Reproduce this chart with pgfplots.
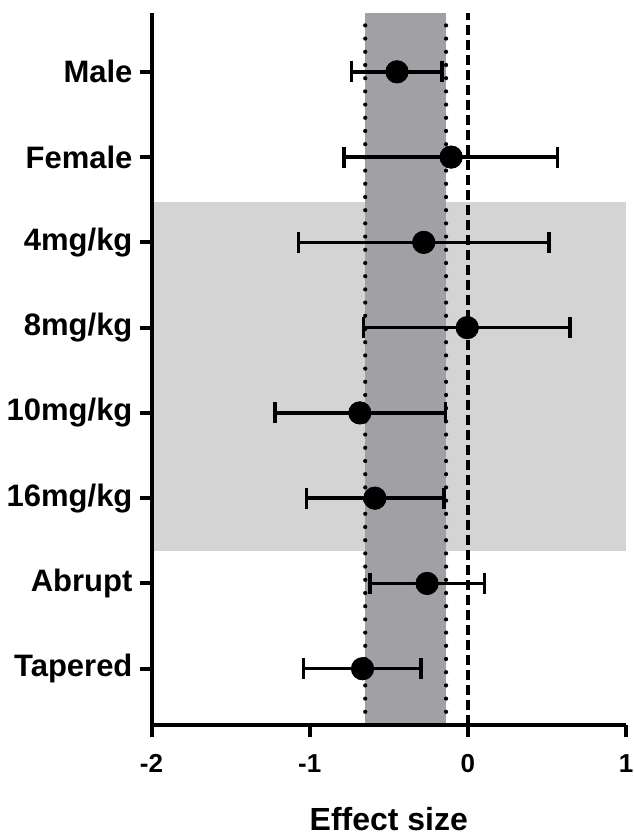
\documentclass[border=0pt]{standalone}
\usepackage{fontspec}
\setmainfont{Liberation Sans}
\usepackage{pgfplots}
\usepackage{pgfplotstable}
\pgfplotsset{compat=1.18}
\definecolor{lightg}{RGB}{212,212,212}
\definecolor{bandg}{RGB}{161,160,165}
\pgfplotstableread{
y m em ep
8 -0.448 0.286 0.285
7 -0.106 0.676 0.672
6 -0.279 0.791 0.792
5 -0.004 0.656 0.649
4 -0.683 0.537 0.543
3 -0.588 0.433 0.436
2 -0.258 0.360 0.363
1 -0.666 0.374 0.370
}\data
\begin{document}
\begin{tikzpicture}
\begin{axis}[
 scale only axis, width=237.3pt, height=356pt,
 xmin=-2, xmax=1, ymin=0.34, ymax=8.69,
 axis x line*=bottom, axis y line*=left,
 x axis line style={-}, y axis line style={-},
 axis line style={line width=2pt},
 xtick={-2,-1,0,1}, ytick={1,2,3,4,5,6,7,8},
 yticklabels={Tapered,Abrupt,16mg/kg,10mg/kg,8mg/kg,4mg/kg,Female,Male},
 tick style={line width=2pt, black}, tick align=outside, major tick length=6pt,
 /pgf/number format/assume math mode=true,
 xticklabel style={font=\fontsize{13}{15}\selectfont\bfseries, inner sep=0pt, yshift=-8.5pt},
 yticklabel style={font=\fontsize{15.5}{18}\selectfont\bfseries},
 xlabel={Effect size},
 xlabel style={font=\fontsize{16}{19}\selectfont\bfseries, inner sep=0pt, at={(axis description cs:0.5,0)}, anchor=base, yshift=-52.5pt},
 axis on top,
]
\addplot[fill=lightg, draw=none, forget plot] coordinates {(-2,2.385) (1,2.385) (1,6.472) (-2,6.472)} -- cycle;
\addplot[fill=bandg, draw=none, forget plot] coordinates {(-0.649,0.34) (-0.138,0.34) (-0.138,8.69) (-0.649,8.69)} -- cycle;
\addplot[black, line width=2.1pt, line cap=round, dash pattern=on 0pt off 6.6pt, forget plot] coordinates {(-0.649,0.34) (-0.649,8.69)};
\addplot[black, line width=2.1pt, line cap=round, dash pattern=on 0pt off 6.6pt, forget plot] coordinates {(-0.138,0.34) (-0.138,8.69)};
\addplot[black, line width=2pt, dash pattern=on 5pt off 2.5pt, forget plot] coordinates {(0,0.34) (0,8.69)};
\addplot[only marks, mark=*, mark size=5.6pt, black,
  error bars/.cd, x dir=both, x explicit,
  error bar style={line width=1.7pt, black},
  error mark=|,
  error mark options={mark size=5.25pt, line width=1.7pt, black}]
  table[x=m, y=y, x error plus=ep, x error minus=em]{\data};
\end{axis}
\path ([yshift=6.5pt]current axis.north);
\path ([yshift=-55pt]current axis.south);
\end{tikzpicture}
\end{document}
